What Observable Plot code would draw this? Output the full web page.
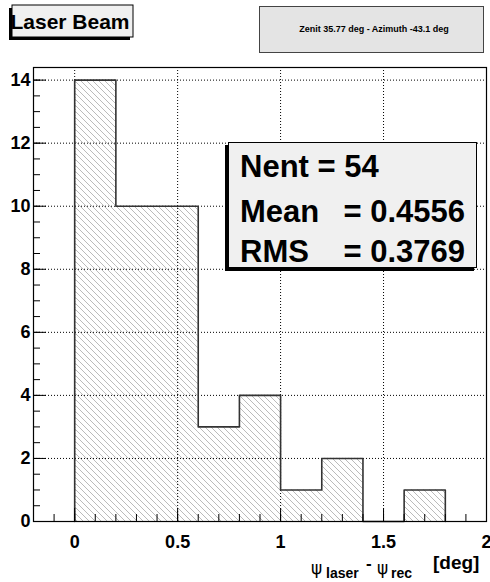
<!DOCTYPE html>
<html><head><meta charset="utf-8">
<script src="https://cdn.jsdelivr.net/npm/d3@7"></script>
<script src="https://cdn.jsdelivr.net/npm/@observablehq/plot@0.6"></script>
<style>body{margin:0;background:#fff}</style>
</head><body><div id="chart"></div>
<script>
// ---- data ----
const binStarts = [0, 0.2, 0.4, 0.6, 0.8, 1.0, 1.2, 1.4, 1.6];
const binWidth = 0.2;
const counts = [14, 10, 10, 3, 4, 1, 2, 0, 1];
const xTickLabels = [0, 0.5, 1, 1.5, 2];
const yTickLabels = [0, 2, 4, 6, 8, 10, 12, 14];
const xGridLines = [0, 0.5, 1, 1.5];
const yGridLines = [2, 4, 6, 8, 10, 12, 14];
const titleText = "Laser Beam";
const subtitleText = "Zenit 35.77 deg - Azimuth -43.1 deg";
const statsLabels = ["Nent = 54", "Mean", "RMS"];
const statsValues = ["", "= 0.4556", "= 0.3769"];

// ---- layout ----
const W = 490, H = 582;
const mL = 33, mR = 4, mT = 67, mB = 61;
const xDom = [-0.2, 2.0], yDom = [0, 14.4];
const pxX = (xDom[1] - xDom[0]) / (W - mL - mR);
const pxY = (yDom[1] - yDom[0]) / (H - mT - mB);
const FONT = "'Liberation Sans', Arial, Helvetica, sans-serif";

const bins = binStarts.map((x0, i) => ({x1: x0, x2: x0 + binWidth, count: counts[i]}));
const outline = [{x: binStarts[0], y: 0}]
  .concat(binStarts.map((x, i) => ({x, y: counts[i]})))
  .concat([{x: binStarts[binStarts.length - 1] + binWidth, y: 0}]);

const xMinor = d3.range(-1, 20).map(i => i / 10);
const yMinor = d3.range(1, 29).map(i => i / 2);

const plot = Plot.plot({
  width: W, height: H,
  marginLeft: mL, marginRight: mR, marginTop: mT, marginBottom: mB,
  style: {fontFamily: FONT, background: "#fff", color: "#000"},
  x: {domain: xDom, label: null, axis: null},
  y: {domain: yDom, label: null, axis: null},
  marks: [
    Plot.rectY(bins, {x1: "x1", x2: "x2", y: "count", fill: "url(#hatch)"}),
    Plot.ruleX(xGridLines, {stroke: "#000", strokeWidth: 1, strokeDasharray: "1,2"}),
    Plot.ruleY(yGridLines, {stroke: "#000", strokeWidth: 1, strokeDasharray: "1,2"}),
    Plot.line(outline, {x: "x", y: "y", curve: "step-after", stroke: "#333", strokeWidth: 1.6}),
    // inward ticks
    Plot.ruleX(xMinor, {x: d => d, y1: 0, y2: 7 * pxY, stroke: "#000", strokeWidth: 1}),
    Plot.ruleX(xTickLabels, {x: d => d, y1: 0, y2: 13 * pxY, stroke: "#000", strokeWidth: 1}),
    Plot.ruleY(yMinor, {y: d => d, x1: xDom[0], x2: xDom[0] + 7 * pxX, stroke: "#000", strokeWidth: 1}),
    Plot.ruleY(yTickLabels, {y: d => d, x1: xDom[0], x2: xDom[0] + 13 * pxX, stroke: "#000", strokeWidth: 1}),
    // tick labels
    Plot.text(xTickLabels, {x: d => d, y: yDom[0], text: d => String(d), dy: 21, fontSize: 18, fontWeight: "bold", fill: "#000"}),
    Plot.text(yTickLabels, {x: xDom[0], y: d => d, text: d => String(d), dx: -3, textAnchor: "end", fontSize: 18, fontWeight: "bold", fill: "#000"}),
    Plot.frame({stroke: "#000", strokeWidth: 1.2})
  ]
});

const svg = d3.select(plot);
// enforce tick label font (the only texts Plot produced)
svg.selectAll("text").style("font-size", "18px").style("font-weight", "bold").style("font-family", FONT);

// hatch pattern
const defs = svg.insert("defs", ":first-child");
const pat = defs.append("pattern").attr("id", "hatch").attr("patternUnits", "userSpaceOnUse")
  .attr("width", 6).attr("height", 6);
pat.append("path").attr("d", "M-1,5 l2,2 M0,0 l6,6 M5,-1 l2,2")
  .attr("stroke", "#aaa").attr("stroke-width", 0.8).attr("fill", "none");

// title box
svg.append("rect").attr("x", 9).attr("y", 8).attr("width", 121).attr("height", 32).attr("fill", "#000");
svg.append("rect").attr("x", 12).attr("y", 5).attr("width", 121).attr("height", 32)
  .attr("fill", "#f0f0f0").attr("stroke", "#000").attr("stroke-width", 1);
svg.append("text").attr("x", 70).attr("y", 29).attr("text-anchor", "middle")
  .style("font-family", FONT).style("font-weight", "bold").style("font-size", "21px").text(titleText);

// subtitle box
svg.append("rect").attr("x", 259.5).attr("y", 6.5).attr("width", 224).attr("height", 46)
  .attr("fill", "#e4e4e4").attr("stroke", "#444").attr("stroke-width", 1);
svg.append("text").attr("x", 374).attr("y", 32).attr("text-anchor", "middle")
  .style("font-family", FONT).style("font-weight", "bold").style("font-size", "9px").text(subtitleText);

// stats box
svg.append("rect").attr("x", 225).attr("y", 145).attr("width", 249).attr("height", 126).attr("fill", "#000");
svg.append("rect").attr("x", 228.5).attr("y", 142.5).attr("width", 248).attr("height", 125)
  .attr("fill", "#f0f0f0").attr("stroke", "#000").attr("stroke-width", 1);
const rowY = [177, 222, 262];
statsLabels.forEach((s, i) => {
  svg.append("text").attr("x", 240).attr("y", rowY[i]).attr("text-anchor", "start")
    .style("font-family", FONT).style("font-weight", "bold").style("font-size", "31px").text(s);
  if (statsValues[i]) svg.append("text").attr("x", 465).attr("y", rowY[i]).attr("text-anchor", "end")
    .style("font-family", FONT).style("font-weight", "bold").style("font-size", "31px").text(statsValues[i]);
});

// x axis title
const parts = [
  {t: "ψ", x: 311, y: 574, size: 17, w: "normal", f: "'DejaVu Sans', sans-serif"},
  {t: "laser", x: 326, y: 578, size: 14, w: "bold", f: FONT},
  {t: "-", x: 366, y: 569, size: 17, w: "bold", f: FONT},
  {t: "ψ", x: 377, y: 574, size: 17, w: "normal", f: "'DejaVu Sans', sans-serif"},
  {t: "rec", x: 391, y: 578, size: 14, w: "bold", f: FONT},
  {t: "[deg]", x: 433, y: 569, size: 19, w: "bold", f: FONT}
];
parts.forEach(p => svg.append("text").attr("x", p.x).attr("y", p.y).attr("text-anchor", "start")
  .style("font-family", p.f).style("font-weight", p.w).style("font-size", p.size + "px").text(p.t));

document.getElementById("chart").appendChild(plot);
</script>
</body></html>
